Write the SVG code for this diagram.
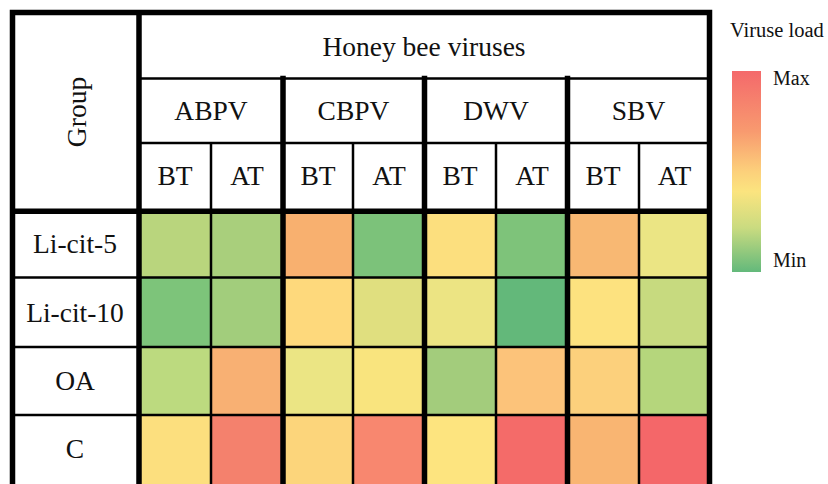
<svg xmlns="http://www.w3.org/2000/svg" width="828" height="484" viewBox="0 0 828 484">
  <defs>
    <linearGradient id="loadScale" x1="0" y1="0" x2="0" y2="1">
      <stop offset="0" stop-color="#f4696b"/>
      <stop offset="0.3" stop-color="#f89a6f"/>
      <stop offset="0.5" stop-color="#fcd07b"/>
      <stop offset="0.6" stop-color="#fbe47f"/>
      <stop offset="0.78" stop-color="#cadb80"/>
      <stop offset="1" stop-color="#63b97b"/>
    </linearGradient>
    <style>
      text { font-family: "Liberation Serif", "Times New Roman", serif; fill: #111; }
      .hd { font-size: 27.5px; text-anchor: middle; }
      .lg { font-size: 20px; }
      .thick { stroke: #000; stroke-width: 5.5; fill: none; stroke-linecap: square; }
      .thin { stroke: #000; stroke-width: 2.5; fill: none; }
    </style>
  </defs>

  <rect width="828" height="484" fill="#fff"/>

  <!-- heat map cells: rows Li-cit-5, Li-cit-10, OA, C; columns ABPV/CBPV/DWV/SBV x BT/AT -->
  <g id="cells">
    <g id="row-li-cit-5">
      <rect x="139" y="211" width="72" height="66.5" fill="#b9d57d"/>
      <rect x="211" y="211" width="72" height="66.5" fill="#a9cf7c"/>
      <rect x="283" y="211" width="70" height="66.5" fill="#f8b06f"/>
      <rect x="353" y="211" width="71.5" height="66.5" fill="#7cc27a"/>
      <rect x="424.5" y="211" width="71.5" height="66.5" fill="#fcdf7e"/>
      <rect x="496" y="211" width="71.5" height="66.5" fill="#7ec37a"/>
      <rect x="567.5" y="211" width="71.5" height="66.5" fill="#f8b873"/>
      <rect x="639" y="211" width="70.5" height="66.5" fill="#ebe584"/>
    </g>
    <g id="row-li-cit-10">
      <rect x="139" y="277.5" width="72" height="69.5" fill="#7dc47a"/>
      <rect x="211" y="277.5" width="72" height="69.5" fill="#a2cd7c"/>
      <rect x="283" y="277.5" width="70" height="69.5" fill="#fed97c"/>
      <rect x="353" y="277.5" width="71.5" height="69.5" fill="#e0df7f"/>
      <rect x="424.5" y="277.5" width="71.5" height="69.5" fill="#ece483"/>
      <rect x="496" y="277.5" width="71.5" height="69.5" fill="#63b87a"/>
      <rect x="567.5" y="277.5" width="71.5" height="69.5" fill="#fde27f"/>
      <rect x="639" y="277.5" width="70.5" height="69.5" fill="#c7da7f"/>
    </g>
    <g id="row-oa">
      <rect x="139" y="347" width="72" height="68" fill="#bcda7f"/>
      <rect x="211" y="347" width="72" height="68" fill="#f8b073"/>
      <rect x="283" y="347" width="70" height="68" fill="#ebe584"/>
      <rect x="353" y="347" width="71.5" height="68" fill="#f9e47e"/>
      <rect x="424.5" y="347" width="71.5" height="68" fill="#a3cc7c"/>
      <rect x="496" y="347" width="71.5" height="68" fill="#fcc37a"/>
      <rect x="567.5" y="347" width="71.5" height="68" fill="#fcd07c"/>
      <rect x="639" y="347" width="70.5" height="68" fill="#b5d67c"/>
    </g>
    <g id="row-c">
      <rect x="139" y="415" width="72" height="75" fill="#fcdf7e"/>
      <rect x="211" y="415" width="72" height="75" fill="#f4816d"/>
      <rect x="283" y="415" width="70" height="75" fill="#fcd57b"/>
      <rect x="353" y="415" width="71.5" height="75" fill="#f8876f"/>
      <rect x="424.5" y="415" width="71.5" height="75" fill="#fde47f"/>
      <rect x="496" y="415" width="71.5" height="75" fill="#f46b69"/>
      <rect x="567.5" y="415" width="71.5" height="75" fill="#f9b572"/>
      <rect x="639" y="415" width="70.5" height="75" fill="#f46769"/>
    </g>
  </g>

  <!-- table rules -->
  <g id="grid">
    <path class="thin" d="M139 78.5H709.5 M139 143H709.5 M12.5 277.5H709.5 M12.5 347H709.5 M12.5 415H709.5 M211 143V490 M353 143V490 M496 143V490 M639 143V490"/>
    <path class="thick" d="M12.5 490V12.5H709.5V490 M139 12.5V490 M283 78.5V490 M424.5 78.5V490 M567.5 78.5V490 M12.5 211.3H709.5"/>
  </g>

  <!-- header -->
  <g id="header-group">
    <text class="hd" transform="translate(86 112) rotate(-90)">Group</text>
  </g>
  <g id="header-viruses">
    <text class="hd" x="424" y="56">Honey bee viruses</text>
  </g>
  <g id="header-abpv">
    <text class="hd" x="211" y="120">ABPV</text>
    <text class="hd" x="175" y="185">BT</text>
    <text class="hd" x="247" y="185">AT</text>
  </g>
  <g id="header-cbpv">
    <text class="hd" x="353.5" y="120">CBPV</text>
    <text class="hd" x="318" y="185">BT</text>
    <text class="hd" x="389" y="185">AT</text>
  </g>
  <g id="header-dwv">
    <text class="hd" x="496" y="120">DWV</text>
    <text class="hd" x="460" y="185">BT</text>
    <text class="hd" x="532" y="185">AT</text>
  </g>
  <g id="header-sbv">
    <text class="hd" x="638.5" y="120">SBV</text>
    <text class="hd" x="603" y="185">BT</text>
    <text class="hd" x="674.5" y="185">AT</text>
  </g>

  <!-- row labels -->
  <g id="label-li-cit-5"><text class="hd" x="75" y="253">Li-cit-5</text></g>
  <g id="label-li-cit-10"><text class="hd" x="75" y="322">Li-cit-10</text></g>
  <g id="label-oa"><text class="hd" x="75" y="390">OA</text></g>
  <g id="label-c"><text class="hd" x="75" y="458">C</text></g>

  <!-- colour scale -->
  <g id="legend">
    <text class="lg" x="730" y="37" style="font-size:20.5px">Viruse load</text>
    <rect x="732" y="71" width="29" height="201" fill="url(#loadScale)"/>
    <text class="lg" x="773" y="85">Max</text>
    <text class="lg" x="773" y="267">Min</text>
  </g>
</svg>
